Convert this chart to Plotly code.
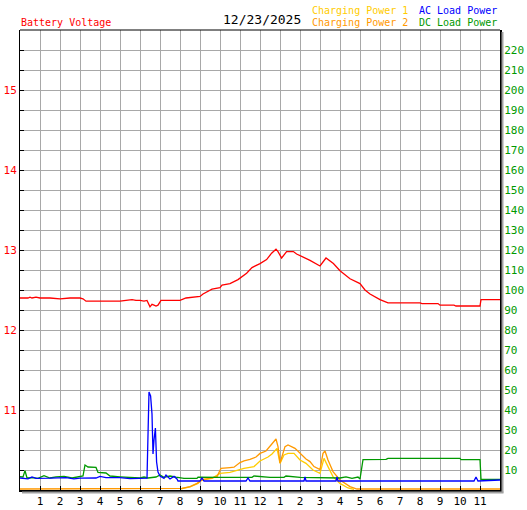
import plotly.graph_objs as go

# hours of the day (0-24) and readings
volt_t = [0.0, 0.4, 0.5, 0.6, 0.8, 1.0, 1.5, 2.0, 2.5, 3.0, 3.15, 3.3, 3.6, 4.0, 4.5, 5.0, 5.3, 5.6, 5.8,
          6.0, 6.2, 6.35, 6.5, 6.6, 6.7, 6.8, 6.9, 7.05, 7.5, 8.0, 8.3, 8.6, 9.0, 9.15, 9.6, 10.0, 10.1,
          10.5, 10.9, 11.33, 11.6, 12.0, 12.33, 12.58, 12.8, 12.9, 13.08, 13.33, 13.67, 13.83, 14.17,
          14.5, 15.0, 15.3, 15.67, 16.0, 16.5, 17.0, 17.25, 17.5, 18.0, 18.4, 20.0, 20.1, 20.9, 21.0,
          21.7, 21.8, 23.0, 23.05, 24.0]
volt_v = [12.40, 12.40, 12.41, 12.40, 12.41, 12.40, 12.40, 12.39, 12.40, 12.40, 12.39, 12.36, 12.36,
          12.36, 12.36, 12.36, 12.37, 12.38, 12.37, 12.37, 12.36, 12.37, 12.29, 12.32, 12.31, 12.30,
          12.31, 12.37, 12.37, 12.37, 12.40, 12.41, 12.42, 12.45, 12.51, 12.53, 12.56, 12.58, 12.63,
          12.71, 12.78, 12.83, 12.88, 12.96, 13.01, 12.98, 12.90, 12.98, 12.98, 12.95, 12.91, 12.87,
          12.80, 12.90, 12.83, 12.74, 12.64, 12.58, 12.50, 12.45, 12.38, 12.34, 12.34, 12.33, 12.33,
          12.31, 12.31, 12.30, 12.30, 12.38, 12.38]

chg1_t = [8.0, 8.5, 8.9, 9.05, 9.6, 10.0, 10.5, 11.0, 11.2, 11.7, 12.0, 12.4, 12.6, 12.85, 13.0, 13.2,
          13.4, 13.7, 14.0, 14.3, 14.65, 15.0, 15.2, 15.4, 15.65, 16.0, 16.4, 16.7]
chg1_w = [0.5, 1.5, 3.3, 5.0, 5.8, 8.3, 8.8, 10.3, 10.8, 11.7, 14.5, 16.5, 18.0, 20.8, 13.3, 17.5,
          18.3, 18.3, 15.0, 13.3, 10.0, 8.3, 15.8, 11.7, 6.7, 3.3, 1.0, 0.3]

chg2_t = [0.0, 8.0, 8.1, 8.5, 8.85, 9.15, 9.5, 9.85, 10.05, 10.5, 10.7, 11.0, 11.2, 11.5, 11.8, 12.0,
          12.3, 12.55, 12.8, 12.9, 13.0, 13.25, 13.4, 13.75, 14.0, 14.3, 14.5, 14.7, 15.0, 15.15, 15.25,
          15.4, 15.65, 16.0, 16.5, 16.85, 24.0]
chg2_w = [0.5, 0.5, 0.8, 1.7, 3.3, 5.3, 5.8, 6.7, 10.8, 11.2, 11.4, 13.7, 14.6, 15.3, 16.5, 18.3,
          19.5, 22.5, 25.5, 21.7, 13.5, 21.7, 22.5, 20.8, 18.3, 15.5, 14.2, 11.7, 10.2, 18.3, 19.5,
          15.0, 9.2, 5.0, 1.7, 0.5, 0.5]

dc_t = [0.0, 0.15, 0.25, 0.35, 0.6, 0.9, 1.2, 1.5, 1.8, 2.2, 2.6, 3.0, 3.15, 3.25, 3.4, 3.8, 3.9, 4.3,
        4.5, 5.0, 5.5, 6.0, 6.2, 6.4, 6.8, 7.0, 7.2, 7.5, 7.8, 8.2, 8.85, 8.9, 10.0, 11.6, 11.7, 12.5,
        13.2, 13.3, 14.0, 15.5, 16.0, 16.3, 16.6, 16.9, 17.0, 17.15, 18.3, 18.4, 22.0, 22.05, 23.0,
        23.05, 24.0]
dc_w = [6.7, 6.5, 9.7, 6.0, 6.2, 5.8, 7.2, 6.0, 6.6, 6.8, 6.0, 6.5, 7.0, 12.5, 11.5, 11.3, 8.8, 8.5,
        7.0, 6.6, 6.2, 6.0, 6.5, 6.0, 6.5, 7.5, 6.3, 7.0, 6.4, 5.8, 5.8, 6.4, 6.3, 6.3, 7.0, 6.3,
        6.3, 7.0, 6.3, 6.3, 6.0, 6.6, 5.8, 6.5, 5.5, 15.2, 15.3, 15.8, 15.8, 15.2, 15.2, 5.3, 5.3]

ac_t = [0.0, 0.4, 0.6, 0.8, 1.5, 2.3, 2.7, 3.0, 3.8, 4.0, 4.3, 5.0, 5.5, 6.35, 6.45, 6.53, 6.6, 6.65,
        6.7, 6.77, 6.83, 6.9, 7.0, 7.2, 7.3, 7.5, 7.7, 7.85, 7.9, 9.0, 9.1, 9.2, 11.3, 11.4, 11.5,
        14.2, 14.25, 14.3, 15.8, 15.85, 15.9, 22.7, 22.8, 22.9, 24.0]
ac_w = [6.0, 5.6, 6.5, 5.8, 5.9, 6.2, 5.6, 5.9, 6.0, 6.8, 6.2, 6.2, 5.7, 5.9, 49.0, 47.0, 38.0, 18.0,
        25.0, 31.0, 14.0, 9.0, 7.0, 5.8, 7.5, 5.5, 6.8, 5.5, 4.5, 4.5, 6.0, 4.5, 4.5, 6.0, 4.5,
        4.5, 6.5, 4.5, 4.5, 6.5, 4.5, 4.5, 6.5, 4.5, 5.0]

hour_vals = list(range(1, 24))
hour_text = [str(h) for h in range(1, 13)] + [str(h) for h in range(1, 12)]

red = '#FF0000'
green = '#009900'
blue = '#0000FF'
gold = '#FFCC00'
orange = '#FF9900'
grid = '#A8A8A8'
mono = 'DejaVu Sans Mono'

fig = go.Figure()
fig.add_trace(go.Scatter(x=volt_t, y=volt_v, mode='lines', line=dict(color=red, width=1.3)))
fig.add_trace(go.Scatter(x=chg1_t, y=chg1_w, mode='lines', yaxis='y2', line=dict(color=gold, width=1.3)))
fig.add_trace(go.Scatter(x=chg2_t, y=chg2_w, mode='lines', yaxis='y2', line=dict(color=orange, width=1.3)))
fig.add_trace(go.Scatter(x=dc_t, y=dc_w, mode='lines', yaxis='y2', line=dict(color=green, width=1.3)))
fig.add_trace(go.Scatter(x=ac_t, y=ac_w, mode='lines', yaxis='y2', line=dict(color=blue, width=1.3)))

fig.update_layout(
    width=527, height=510,
    margin=dict(l=20, r=27, t=30, b=20, autoexpand=False),
    paper_bgcolor='white', plot_bgcolor='white',
    showlegend=False,
    font=dict(family=mono, size=10),
    xaxis=dict(range=[0, 24], tickvals=hour_vals, ticktext=hour_text, automargin=False,
               showgrid=True, gridcolor=grid, gridwidth=1, zeroline=False,
               showline=True, linecolor='black', linewidth=2,
               ticks='inside', ticklen=4, tickcolor='black',
               tickfont=dict(color='black', size=11, family=mono)),
    yaxis=dict(range=[10, 15.75], tickvals=[11, 12, 13, 14, 15], automargin=False,
               showgrid=True, gridcolor=grid, gridwidth=1, zeroline=False,
               showline=True, linecolor='black', linewidth=1,
               ticks='inside', ticklen=4, tickcolor='black',
               tickfont=dict(color=red, size=11, family=mono),
               minor=dict(dtick=0.25, showgrid=True, gridcolor=grid, gridwidth=1,
                          ticks='inside', ticklen=4, tickcolor='black')),
    yaxis2=dict(range=[0, 230], tickvals=list(range(10, 230, 10)), overlaying='y', side='right',
                automargin=False, showgrid=False, zeroline=False,
                showline=True, linecolor='black', linewidth=2, ticks='',
                tickfont=dict(color=green, size=11, family=mono)),
)

# shadow and top border
fig.add_shape(type='line', xref='paper', yref='paper', x0=1 + 2.5 / 480, x1=1 + 2.5 / 480,
              y0=-2.5 / 460, y1=1 - 2 / 460, line=dict(color='#A0A0A0', width=2))
fig.add_shape(type='line', xref='paper', yref='paper', x0=2 / 480, x1=1 + 3.5 / 480,
              y0=-2.5 / 460, y1=-2.5 / 460, line=dict(color='#A0A0A0', width=2))
fig.add_shape(type='line', xref='paper', yref='paper', x0=0, x1=1, y0=1, y1=1,
              line=dict(color='black', width=1))


def head(txt, px, py, color, size=10):
    fig.add_annotation(text=txt, xref='paper', yref='paper', x=(px - 20) / 480, y=(490 - py) / 460,
                       xanchor='left', yanchor='middle', showarrow=False,
                       font=dict(family=mono, size=size, color=color))


head('Battery Voltage', 19, 22, red)
head('12/23/2025', 221, 19, 'black', 13)
head('Charging Power 1', 310, 11, gold)
head('Charging Power 2', 310, 23, orange)
head('AC Load Power', 417, 11, blue)
head('DC Load Power', 417, 23, green)

# page body has a default 8px margin; drop it so the chart sits at the corner
fig.write_html("out.html", config={'displayModeBar': False},
               post_script="document.body.style.margin='0';document.body.style.overflow='hidden';")
